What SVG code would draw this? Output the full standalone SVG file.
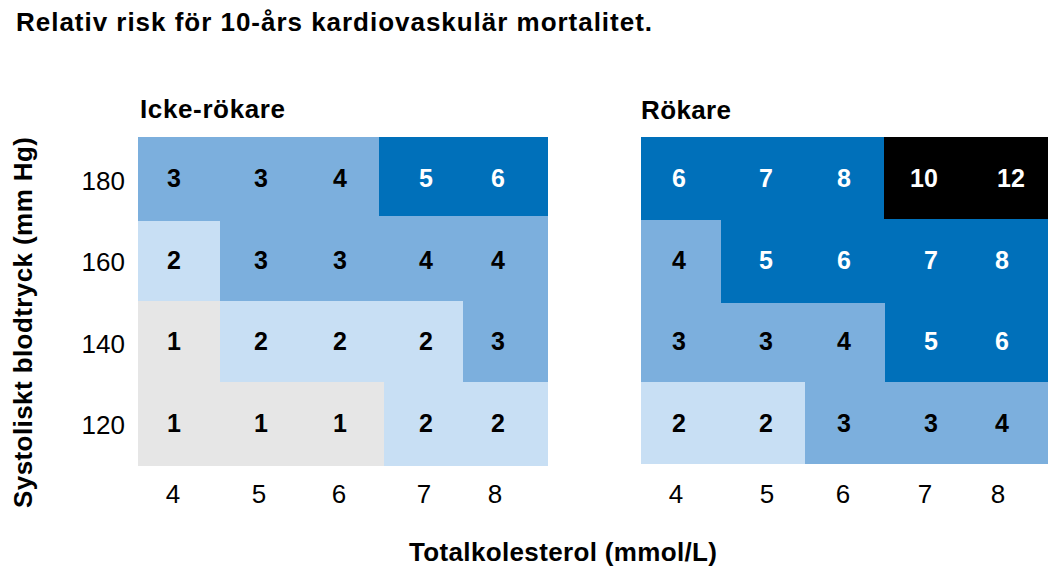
<svg xmlns="http://www.w3.org/2000/svg" width="1048" height="572" viewBox="0 0 1048 572">
<style>
text{font-family:"Liberation Sans",Arial,Helvetica,sans-serif;fill:#000}
.t{font-size:26px;font-weight:bold}
.h{font-size:26px;font-weight:bold}
.ax{font-size:26px}
.c{font-size:25px;font-weight:bold;text-anchor:middle}
.w{fill:#fff}
.d{fill:#0070BA}.m{fill:#7CAFDD}.l{fill:#C8DFF4}.g{fill:#E6E6E6}.k{fill:#000}
.ya{text-anchor:end}.xa{text-anchor:middle}
</style>
<rect width="1048" height="572" fill="#fff"/>
<text class="t" x="16" y="31" textLength="636" lengthAdjust="spacing">Relativ risk för 10-års kardiovaskulär mortalitet.</text>

<g id="nonsmokers">
<text class="h" x="140" y="118" textLength="145" lengthAdjust="spacing">Icke-rökare</text>
<rect class="m" x="138" y="137" width="410" height="329"/>
<rect class="d" x="379" y="137" width="169" height="79"/>
<rect class="l" x="138" y="221" width="82" height="80"/>
<rect class="l" x="220" y="301" width="243" height="81"/>
<rect class="l" x="384" y="382" width="164" height="84"/>
<rect class="g" x="138" y="301" width="82" height="82"/>
<rect class="g" x="138" y="382" width="246" height="84"/>
<text class="c" x="174" y="187">3</text><text class="c" x="261" y="187">3</text><text class="c" x="340" y="187">4</text><text class="c w" x="426" y="187">5</text><text class="c w" x="498" y="187">6</text>
<text class="c" x="174" y="269">2</text><text class="c" x="261" y="269">3</text><text class="c" x="340" y="269">3</text><text class="c" x="426" y="269">4</text><text class="c" x="498" y="269">4</text>
<text class="c" x="174" y="350">1</text><text class="c" x="261" y="350">2</text><text class="c" x="340" y="350">2</text><text class="c" x="426" y="350">2</text><text class="c" x="498" y="350">3</text>
<text class="c" x="174" y="432">1</text><text class="c" x="261" y="432">1</text><text class="c" x="340" y="432">1</text><text class="c" x="426" y="432">2</text><text class="c" x="498" y="432">2</text>
</g>

<g id="smokers">
<text class="h" x="641" y="119" textLength="90" lengthAdjust="spacing">Rökare</text>
<rect class="d" x="641" y="137" width="407" height="327"/>
<rect class="k" x="884" y="137" width="164" height="82"/>
<rect class="m" x="641" y="220" width="80" height="162"/>
<rect class="m" x="721" y="303" width="164" height="79"/>
<rect class="m" x="805" y="382" width="243" height="82"/>
<rect class="l" x="641" y="382" width="164" height="82"/>
<text class="c w" x="679" y="187">6</text><text class="c w" x="766" y="187">7</text><text class="c w" x="844" y="187">8</text><text class="c w" x="924" y="187">10</text><text class="c w" x="1011" y="187">12</text>
<text class="c" x="679" y="269">4</text><text class="c w" x="766" y="269">5</text><text class="c w" x="844" y="269">6</text><text class="c w" x="931" y="269">7</text><text class="c w" x="1002" y="269">8</text>
<text class="c" x="679" y="350">3</text><text class="c" x="766" y="350">3</text><text class="c" x="844" y="350">4</text><text class="c w" x="931" y="350">5</text><text class="c w" x="1002" y="350">6</text>
<text class="c" x="679" y="432">2</text><text class="c" x="766" y="432">2</text><text class="c" x="844" y="432">3</text><text class="c" x="931" y="432">3</text><text class="c" x="1002" y="432">4</text>
</g>

<g id="y-axis">
<text class="h" transform="translate(32,322.5) rotate(-90)" text-anchor="middle" textLength="371" lengthAdjust="spacing">Systoliskt blodtryck (mm Hg)</text>
<text class="ax ya" x="125" y="190">180</text>
<text class="ax ya" x="125" y="271">160</text>
<text class="ax ya" x="125" y="353">140</text>
<text class="ax ya" x="125" y="434">120</text>
</g>

<g id="x-axis">
<text class="ax xa" x="173" y="503">4</text>
<text class="ax xa" x="259" y="503">5</text>
<text class="ax xa" x="339" y="503">6</text>
<text class="ax xa" x="424" y="503">7</text>
<text class="ax xa" x="495" y="503">8</text>
<text class="ax xa" x="676" y="503">4</text>
<text class="ax xa" x="767" y="503">5</text>
<text class="ax xa" x="843" y="503">6</text>
<text class="ax xa" x="925" y="503">7</text>
<text class="ax xa" x="998" y="503">8</text>
<text class="h" x="563" y="561" text-anchor="middle" textLength="308" lengthAdjust="spacing">Totalkolesterol (mmol/L)</text>
</g>
<g id="connectors"/>
</svg>
